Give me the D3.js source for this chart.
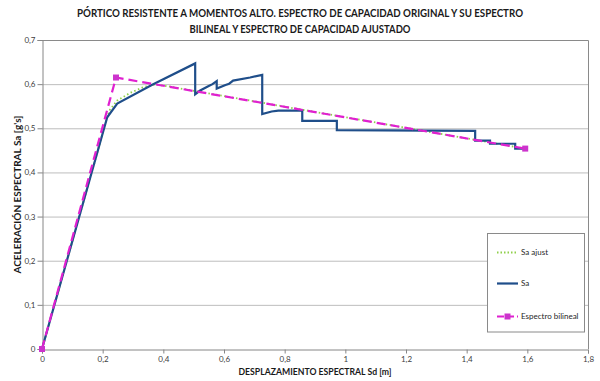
<!DOCTYPE html>
<html><head><meta charset="utf-8">
<script src="https://cdn.jsdelivr.net/npm/d3@7"></script>
<style>
body{margin:0;background:#fff;}
svg{display:block;font-family:Lato,"Open Sans",sans-serif;}
</style></head>
<body>
<svg id="c" width="600" height="381"></svg>
<script>
// ---- data ----
const saSd = [0, 0.215, 0.248, 0.365, 0.505, 0.505, 0.52, 0.548, 0.562, 0.576, 0.576, 0.605, 0.617, 0.630, 0.686, 0.726, 0.726, 0.757, 0.779, 0.858, 0.858, 0.972, 0.972, 1.428, 1.428, 1.477, 1.477, 1.56, 1.56, 1.593];
const saVal = [0, 0.525, 0.556, 0.599, 0.647, 0.577, 0.585, 0.595, 0.600, 0.607, 0.590, 0.598, 0.601, 0.608, 0.615, 0.621, 0.532, 0.538, 0.540, 0.540, 0.517, 0.517, 0.496, 0.494, 0.472, 0.472, 0.465, 0.465, 0.454, 0.454];
const ajustSd = [0, 0.215, 0.224, 0.248, 0.29, 0.33, 0.365, 0.40, 1.593];
const ajustVal = [0, 0.525, 0.542, 0.563, 0.580, 0.592, 0.599, 0.597, 0.454];
const bilSd = [0, 0.244, 1.593];
const bilVal = [0, 0.615, 0.454];
const xTicks = [0, 0.2, 0.4, 0.6, 0.8, 1.0, 1.2, 1.4, 1.6, 1.8];
const yTicks = [0, 0.1, 0.2, 0.3, 0.4, 0.5, 0.6, 0.7];
const seriesNames = ["Sa ajust", "Sa", "Espectro bilineal"];
const titleLines = ["PÓRTICO RESISTENTE A MOMENTOS ALTO. ESPECTRO DE CAPACIDAD ORIGINAL Y SU ESPECTRO", "BILINEAL Y ESPECTRO DE CAPACIDAD AJUSTADO"];
const xTitle = "DESPLAZAMIENTO ESPECTRAL Sd [m]";
const yTitle = "ACELERACIÓN ESPECTRAL Sa [g's]";

// ---- layout ----
const svg = d3.select("#c");
const L = 42, R = 588, T = 40, B = 349;
const x = d3.scaleLinear().domain([0, 1.8]).range([L, R]);
const y = d3.scaleLinear().domain([0, 0.7]).range([B, T]);
const fmt = v => d3.format("")(+v.toFixed(1)).replace(".", ",");

// gridlines
svg.append("g").selectAll("line").data(yTicks.slice(1)).join("line")
  .attr("x1", L).attr("x2", R).attr("y1", d => y(d) + 0.5).attr("y2", d => y(d) + 0.5)
  .attr("stroke", "#bdbdbd").attr("stroke-width", 1);

// plot border (top, right)
svg.append("path").attr("d", `M${L},${T + 0.5}H${R + 0.5}V${B}`)
  .attr("fill", "none").attr("stroke", "#8a8a8a").attr("stroke-width", 1);

// axes
const yAxis = svg.append("g").attr("transform", `translate(${L + 0.5},0)`)
  .call(d3.axisLeft(y).tickValues(yTicks).tickFormat(fmt).tickSize(5).tickPadding(2));
const xAxis = svg.append("g").attr("transform", `translate(0,${B + 0.5})`)
  .call(d3.axisBottom(x).tickValues(xTicks).tickFormat(fmt).tickSize(4).tickPadding(3));
[xAxis, yAxis].forEach(g => {
  g.select(".domain").attr("stroke", "#868686");
  g.selectAll(".tick line").attr("stroke", "#868686");
  g.selectAll("text").attr("fill", "#404040").style("font-size", "8px").style("font-family", "Lato, sans-serif");
});

// series
const lineGen = (xs, ys) => d3.line().x((d, i) => x(xs[i])).y((d, i) => y(ys[i]))(xs);
svg.append("path").attr("d", lineGen(ajustSd, ajustVal))
  .attr("fill", "none").attr("stroke", "#8fd04a").attr("stroke-width", 1.8)
  .attr("stroke-dasharray", "1.5,2.5").attr("stroke-linecap", "butt");
svg.append("path").attr("d", lineGen(saSd, saVal))
  .attr("fill", "none").attr("stroke", "#1f4e8a").attr("stroke-width", 2.2)
  .attr("stroke-linejoin", "miter");
svg.append("path").attr("d", lineGen(bilSd, bilVal))
  .attr("fill", "none").attr("stroke", "#e020d0").attr("stroke-width", 2.2)
  .attr("stroke-dasharray", "9,5");
svg.append("g").selectAll("rect").data(bilSd).join("rect")
  .attr("x", (d, i) => x(d) - 3).attr("y", (d, i) => y(bilVal[i]) - 3)
  .attr("width", 6).attr("height", 6).attr("fill", "#cc33cc");

// legend
const lg = svg.append("g");
lg.append("rect").attr("x", 487.5).attr("y", 233.5).attr("width", 97).attr("height", 98.5)
  .attr("fill", "#fff").attr("stroke", "#8a8a8a").attr("stroke-width", 1);
const ly = [252.5, 283.5, 316.5];
const styles = [
  {stroke: "#8fd04a", dash: "1.5,2", w: 1.8},
  {stroke: "#1f4e8a", dash: null, w: 2.2},
  {stroke: "#e020d0", dash: "7,3", w: 2.2}
];
seriesNames.forEach((n, i) => {
  const l = lg.append("line").attr("x1", 497).attr("x2", 518).attr("y1", ly[i]).attr("y2", ly[i])
    .attr("stroke", styles[i].stroke).attr("stroke-width", styles[i].w);
  if (styles[i].dash) l.attr("stroke-dasharray", styles[i].dash);
  if (i === 2) lg.append("rect").attr("x", 504.5).attr("y", ly[i] - 3).attr("width", 6).attr("height", 6).attr("fill", "#cc33cc");
  lg.append("text").attr("x", 521).attr("y", ly[i]).attr("dy", "0.35em")
    .attr("fill", "#262626").style("font-size", "8px").text(n);
});

// titles
const tw = [446, 221];
titleLines.forEach((t, i) => {
  svg.append("text").attr("x", 300).attr("y", 17 + i * 16).attr("text-anchor", "middle")
    .attr("textLength", tw[i]).attr("lengthAdjust", "spacingAndGlyphs")
    .style("font-size", "11px").style("font-weight", "bold").attr("fill", "#1a1a1a").text(t);
});
svg.append("text").attr("x", (L + R) / 2).attr("y", 375).attr("text-anchor", "middle")
  .attr("textLength", 153).attr("lengthAdjust", "spacingAndGlyphs")
  .style("font-size", "9.5px").style("font-weight", "bold").attr("fill", "#1a1a1a").text(xTitle);
svg.append("text").attr("transform", `translate(21,${(T + B) / 2 + 0}) rotate(-90)`).attr("text-anchor", "middle")
  .attr("textLength", 158).attr("lengthAdjust", "spacingAndGlyphs")
  .style("font-size", "9.5px").style("font-weight", "bold").attr("fill", "#1a1a1a").text(yTitle);
</script>
</body></html>
